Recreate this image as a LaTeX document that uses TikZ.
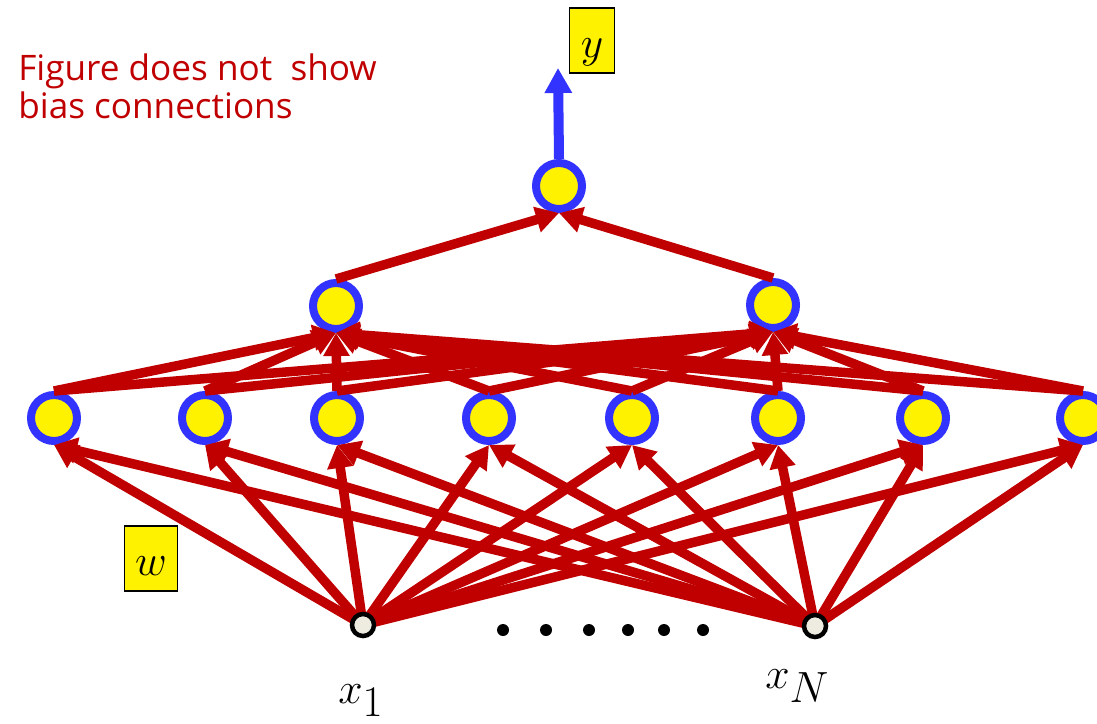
\documentclass[tikz,border=0pt]{standalone}
\usepackage{fontspec}
\newfontfamily\notefont{Open Sans}
\usetikzlibrary{arrows.meta}
\definecolor{wred}{RGB}{192,0,0}
\definecolor{ringblue}{RGB}{51,51,255}
\definecolor{inpfill}{RGB}{238,236,225}
\pgfdeclarelayer{front}
\pgfsetlayers{main,front}

\begin{document}
\begin{tikzpicture}[x=0.02cm,y=-0.02cm,
  unit/.style={circle,draw=ringblue,fill=yellow,line width=0.16cm,minimum size=0.92cm,inner sep=0pt},
  input/.style={circle,draw=black,fill=inpfill,line width=0.09cm,minimum size=0.44cm,inner sep=0pt},
  weight/.style={draw=wred,line width=0.19cm,-{Triangle[length=0.46cm,width=0.5cm]}},
  signal/.style={draw=ringblue,line width=0.2cm,-{Triangle[length=0.5cm,width=0.52cm]}},
  tag/.style={draw=black,fill=yellow,line width=1.1pt,inner sep=0pt,text height=0.99cm,text depth=0.31cm,font=\fontsize{34}{34}\selectfont}]
\useasboundingbox (0,0) rectangle (1097,723);
\foreach \i/\x in {1/54,2/205,3/337,4/489,5/632,6/778,7/923,8/1083}
  \node[unit] (h\i) at (\x,418) {};
\node[unit] (g1) at (336,306) {};
\node[unit] (g2) at (773,305) {};
\node[unit] (out) at (559,186) {};
\begin{pgfonlayer}{front}
\node[input] (x1) at (363,625) {};
\node[input] (xN) at (815,626) {};
\end{pgfonlayer}
\coordinate (ytip) at (558,68);
\foreach \i in {1,...,8} {
  \draw[weight] (x1.center) -- (h\i.south);
  \draw[weight] (xN.center) -- (h\i.south);
}
\foreach \i in {1,...,8} {
  \draw[weight] (h\i.north) -- (g1.south);
  \draw[weight] (h\i.north) -- (g2.south);
}
\draw[weight] (g1.north) -- (out.south);
\draw[weight] (g2.north) -- (out.south);
\draw[signal] (out.north) -- (ytip);
\foreach \x in {503,546,589,628,664,703}
  \fill (\x,630) circle (0.12cm);
\node[anchor=base west,inner sep=0pt] (lx1) at (338,703) {\fontsize{44}{44}\selectfont $x_1$};
\node[anchor=base west,inner sep=0pt] (lxN) at (765,688) {\fontsize{44}{44}\selectfont $x_N$};
\node[tag,minimum width=0.9cm] (ylab) at (592,7) [anchor=north] {$y$};
\node[tag,minimum width=1.06cm] (wlab) at (151,525) [anchor=north] {$w$};
\node[anchor=base west,inner sep=0pt,align=left,text=wred,font=\notefont\fontsize{20}{21.6}\selectfont] (note) at (18,118) {Figure does not\ \ show\\bias connections};
\end{tikzpicture}
\end{document}
